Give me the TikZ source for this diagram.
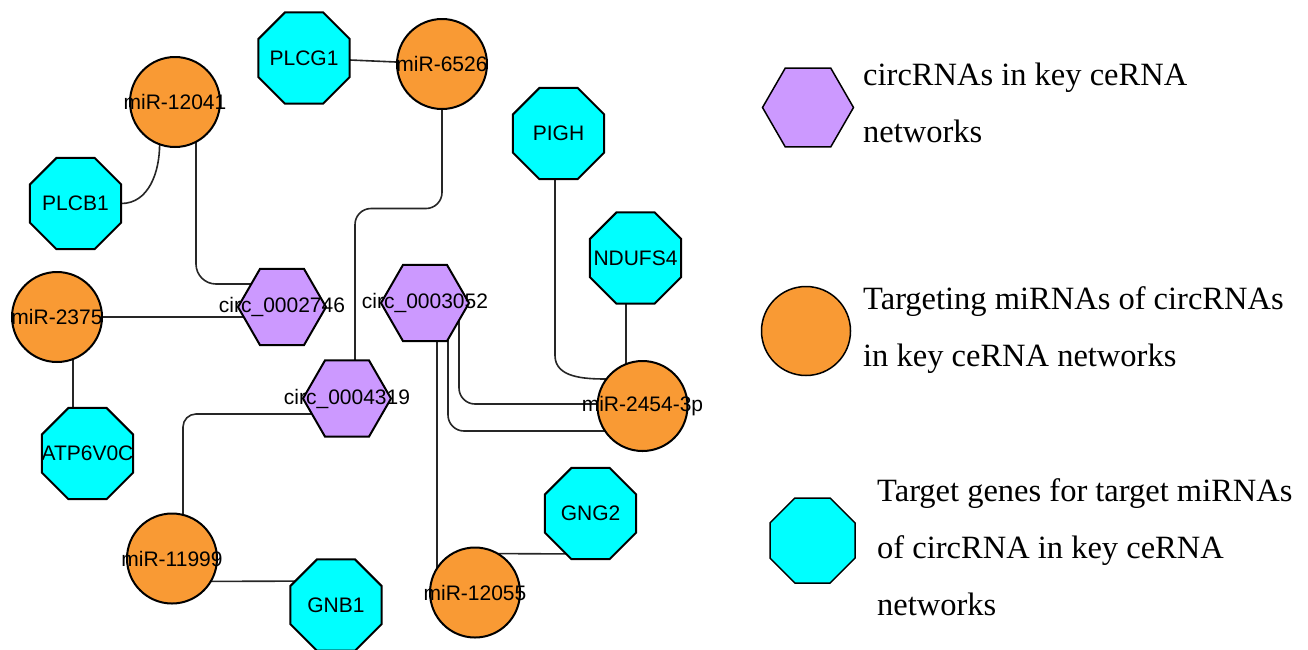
\documentclass[tikz,border=0pt]{standalone}
\usepackage{fontspec}
\setmainfont{Liberation Serif}
\newfontfamily\arialf{Liberation Sans}
\usetikzlibrary{shapes.geometric,calc,backgrounds}
\definecolor{circpurple}{RGB}{204,153,255}
\definecolor{miorange}{RGB}{249,154,52}
\definecolor{genecyan}{RGB}{0,255,255}
\begin{document}
\begin{tikzpicture}[x=1pt,y=-1pt,
  base/.style={draw=black, line width=2pt, inner sep=0pt, outer sep=0pt},
  circnode/.style={base, regular polygon, regular polygon sides=6, minimum size=88pt, fill=circpurple},
  minode/.style={base, circle, minimum size=90pt, fill=miorange},
  genenode/.style={base, regular polygon, regular polygon sides=8, minimum size=99pt, fill=genecyan},
  lbl/.style={font=\arialf\fontsize{21}{24}\selectfont, inner sep=0pt},
  conn/.style={draw=black!85, line width=1.6pt},
  legtext/.style={font=\fontsize{32.5}{40}\selectfont, anchor=base west, inner sep=0pt},
]
\useasboundingbox (0,0) rectangle (1308,649);

% network nodes
\node[genenode, label={[lbl]center:PLCG1}] (PLCG1) at (304,58) {};
\node[minode, label={[lbl]center:miR-6526}] (m6526) at (442,64) {};
\node[minode, label={[lbl]center:miR-12041}] (m12041) at (175,102) {};
\node[genenode, label={[lbl]center:PLCB1}] (PLCB1) at (75.5,203.5) {};
\node[circnode, label={[lbl]center:circ\_0002746}] (c2746) at (282,307) {};
\node[circnode, label={[lbl]center:circ\_0003052}] (c3052) at (425,303) {};
\node[circnode, label={[lbl]center:circ\_0004319}] (c4319) at (347,398.5) {};
\node[minode, label={[lbl]center:miR-2375}] (m2375) at (57,317) {};
\node[genenode, label={[lbl]center:ATP6V0C}] (ATP) at (87.5,453.5) {};
\node[genenode, label={[lbl]center:NDUFS4}] (NDUFS4) at (635.5,258) {};
\node[genenode, label={[lbl]center:PIGH}] (PIGH) at (558.5,133.5) {};
\node[minode, label={[lbl]center:miR-2454-3p}] (m2454) at (642.5,406) {};
\node[minode, label={[lbl]center:miR-11999}] (m11999) at (172,558.5) {};
\node[genenode, label={[lbl]center:GNB1}] (GNB1) at (336,605) {};
\node[minode, label={[lbl]center:miR-12055}] (m12055) at (475,592.5) {};
\node[genenode, label={[lbl]center:GNG2}] (GNG2) at (590.5,513.5) {};

% connectors
\begin{scope}[on background layer]
\draw[conn] (PLCG1) -- (m6526);
\draw[conn] (m12041.-110) to[out=-90,in=0] (PLCB1.east);
\draw[conn, rounded corners=20pt] ($(m12041)+(21,0)$) |- ($(c2746)+(0,-23)$);
\draw[conn, rounded corners=16pt] (m6526.center) |- ($(c4319)+(8,-190)$) -- ($(c4319)+(8,0)$);
\draw[conn] (m2375) -- ($(c2746)+(0,10)$);
\draw[conn] ($(m2375)+(16,0)$) -- ($(ATP)+(-14.5,0)$);
\draw[conn, rounded corners=13pt] ($(c4319)+(0,15.5)$) -| ($(m11999)+(11,0)$);
\draw[conn] ($(m11999)+(0,23)$) -- ($(GNB1)+(0,-24)$);
\draw[conn] ($(c3052)+(12,0)$) -- ($(m12055)+(-38,0)$);
\draw[conn] ($(m12055)+(0,-39)$) -- ($(GNG2)+(0,40.5)$);
\draw[conn, rounded corners=16pt] ($(c3052)+(34,0)$) |- ($(m2454)+(0,-2)$);
\draw[conn, rounded corners=16pt] ($(c3052)+(23,0)$) |- ($(m2454)+(0,25)$);
\draw[conn] ($(PIGH)+(-3.5,0)$) -- ($(PIGH)+(-3.5,222)$) to[out=-90,in=180] ($(m2454)+(-36,-27)$) -- (m2454);
\draw[conn] ($(NDUFS4)+(-9.5,0)$) -- ($(m2454)+(-16.5,0)$);
\end{scope}

% legend
\node[circnode, minimum size=91pt, line width=1.5pt] (leghex) at (808,107.5) {};
\node[minode, minimum size=89pt, line width=1.5pt] (legcirc) at (806,331) {};
\node[genenode, minimum size=92pt, line width=1.5pt] (legoct) at (812.5,540.5) {};
\node[legtext] (l1a) at (863,85) {circRNAs in key ceRNA};
\node[legtext] (l1b) at (863,142) {networks};
\node[legtext] (l2a) at (863,309) {Targeting miRNAs of circRNAs};
\node[legtext] (l2b) at (863,366) {in key ceRNA networks};
\node[legtext] (l3a) at (877,501) {Target genes for target miRNAs};
\node[legtext] (l3b) at (877,558) {of circRNA in key ceRNA};
\node[legtext] (l3c) at (877,615) {networks};
\end{tikzpicture}
\end{document}
